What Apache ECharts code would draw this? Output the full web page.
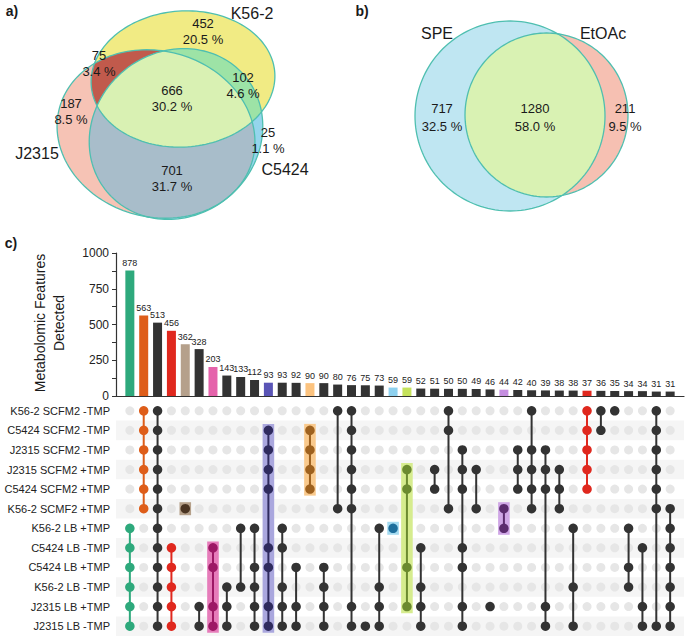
<!DOCTYPE html>
<html><head><meta charset="utf-8">
<script src="https://cdn.jsdelivr.net/npm/echarts@6/dist/echarts.min.js"></script>
<style>html,body{margin:0;padding:0;background:#fff}#c{width:685px;height:637px}</style>
</head><body><div id="c"></div>
<script>
// ---------------- DATA ----------------
const barValues = [878,563,513,456,362,328,203,143,133,112,93,93,92,90,90,80,76,75,73,59,59,52,51,50,50,49,46,44,42,40,39,38,38,37,36,35,34,34,31,31];
const rowLabels = ['K56-2 SCFM2 -TMP','C5424 SCFM2 -TMP','J2315 SCFM2 -TMP','J2315 SCFM2 +TMP','C5424 SCFM2 +TMP','K56-2 SCMF2 +TMP','K56-2 LB +TMP','C5424 LB -TMP','C5424 LB +TMP','K56-2 LB -TMP','J2315 LB +TMP','J2315 LB -TMP'];
const setRows = [
 [6,7,8,9,10,11],[0,1,2,3,4,5],[0,1,2,3,4,5,6,7,8,9,10,11],[7,8,9,10,11],[5],[10,11],[7,8,10,11],[9,10,11],[6,9],[6,8,9,10,11],
 [1,2,3,4,7,8,10,11],[6,7,9,10,11],[8,10,11],[1,2,3,4],[8,9,10,11],[0,5],[0,1,2,3,4,5,10,11],[11],[6,9,10,11],[6],
 [3,4,8,10],[7,9,10,11],[3,4],[0,1,5],[2,3,4,7,8,10,11],[3,5],[10],[5,6],[2,3,4],[0,2,3,4,5],
 [2,3,4,10,11],[3,4,5],[6,9,11],[0,1,2,3,4],[0,1],[0],[6,8,9],[7,10,11],[0,1,2,3,4,5,11],[5,6,7,8,9,10,11]
];
const colStyle = ['green','orange','k','red','tan','k','pink','k','k','k','purple','k','k','amber','k','k','k','k','k','sky','lime','k','k','k','k','k','k','lilac','k','k','k','k','k','red','k','k','k','k','k','k'];
const yTickLabels = [0,250,500,750,1000];
const vennANames = ['J2315','K56-2','C5424'];
// regions: J only, K only, C only, J&K, K&C, J&C, all
const vennACounts = [187,452,25,75,102,701,666];
const vennAPercents = ['8.5','20.5','1.1','3.4','4.6','31.7','30.2'];
const vennBNames = ['SPE','EtOAc'];
// regions: SPE only, both, EtOAc only
const vennBCounts = [717,1280,211];
const vennBPercents = ['32.5','58.0','9.5'];

// ---------------- STYLES ----------------
const FONT = "'Liberation Sans', Arial, Helvetica, sans-serif";
const styles = {
  k:{bar:'#333333',dot:'#333333',box:null},
  green:{bar:'#2ea97c',dot:'#2ea97c',box:null},
  orange:{bar:'#de5d19',dot:'#de5d19',box:null},
  red:{bar:'#e0281e',dot:'#e0281e',box:null},
  tan:{bar:'#b5a08b',dot:'#4a3422',box:'#b5a08a'},
  pink:{bar:'#e563ab',dot:'#9d1865',box:'#e67cba'},
  purple:{bar:'#5a55b6',dot:'#2f2b5e',box:'#aaa7de'},
  amber:{bar:'#fcc37f',dot:'#9e611e',box:'#f9c98c'},
  sky:{bar:'#8ed1ef',dot:'#1e6e9c',box:'#a4daf0'},
  lime:{bar:'#c5e25c',dot:'#6b8a2f',box:'#d6ec8e'},
  lilac:{bar:'#c58ee0',dot:'#5b2c6e',box:'#cfa6e6'}
};

// ---------------- VENN GEOMETRY ----------------
function ellipsePts(cx,cy,rx,ry,rotDeg,n){
  n=n||160; const t=rotDeg*Math.PI/180,c=Math.cos(t),s=Math.sin(t),pts=[];
  for(let i=0;i<n;i++){const a=2*Math.PI*i/n,x=rx*Math.cos(a),y=ry*Math.sin(a);pts.push([cx+x*c-y*s,cy+x*s+y*c]);}
  return pts;
}
function clipConvex(subject,clipPoly){
  let area=0;const n=clipPoly.length;
  for(let i=0;i<n;i++){const p=clipPoly[i],q=clipPoly[(i+1)%n];area+=p[0]*q[1]-q[0]*p[1];}
  const sg=area>0?1:-1;let out=subject;
  for(let i=0;i<n;i++){
    const a=clipPoly[i],b=clipPoly[(i+1)%n];const inp=out;out=[];if(!inp.length)break;
    const cr=p=>sg*((b[0]-a[0])*(p[1]-a[1])-(b[1]-a[1])*(p[0]-a[0]));
    for(let j=0;j<inp.length;j++){
      const cur=inp[j],prev=inp[(j+inp.length-1)%inp.length];const dc=cr(cur),dp=cr(prev);
      if(dc>=0){if(dp<0){const t=dp/(dp-dc);out.push([prev[0]+t*(cur[0]-prev[0]),prev[1]+t*(cur[1]-prev[1])]);}out.push(cur);}
      else if(dp>=0){const t=dp/(dp-dc);out.push([prev[0]+t*(cur[0]-prev[0]),prev[1]+t*(cur[1]-prev[1])]);}
    }
  }
  return out;
}
const eJ=ellipsePts(156,134,100,83,15), eK=ellipsePts(183,79,92,68,-4), eC=ellipsePts(176,134,90,82,-40);
const eS=ellipsePts(510,116,95,95,0), eE=ellipsePts(546.5,115,81.5,82,0);
const OUT='#4fbfb0';
const vennLayers=[
  {pts:eJ,fill:'#f6c3b5'},{pts:eK,fill:'#f1eb84'},{pts:eC,fill:'#95d5ec'},
  {pts:clipConvex(eJ,eK),fill:'#c15a4c'},{pts:clipConvex(eK,eC),fill:'#9de3a6'},{pts:clipConvex(eJ,eC),fill:'#a8bdca'},
  {pts:clipConvex(clipConvex(eJ,eK),eC),fill:'#d9f1b3'},
  {pts:eJ,stroke:OUT},{pts:eK,stroke:OUT},{pts:eC,stroke:OUT},
  {pts:eS,fill:'#bfe6f2'},{pts:eE,fill:'#f6c0b2'},{pts:clipConvex(eS,eE),fill:'#d9f2b3'},
  {pts:eS,stroke:OUT},{pts:eE,stroke:OUT}
];

// ---------------- DERIVED SERIES DATA ----------------
const nCols=barValues.length,nRows=rowLabels.length;
const barData=barValues.map((v,i)=>[i+1,v]);
const grayDots=[];for(let c=0;c<nCols;c++)for(let r=0;r<nRows;r++)grayDots.push([c+1,r]);
const activeDots=[];setRows.forEach((rows,c)=>rows.forEach(r=>activeDots.push([c+1,r,c])));
const spans=setRows.map((rows,c)=>[c+1,Math.min(...rows),Math.max(...rows),c]);
const boxSpans=spans.filter(s=>styles[colStyle[s[3]]].box);
const lineSpans=spans.filter(s=>s[2]>s[1]);

const texts=[];
function T(x,y,text,size,extra){texts.push(Object.assign({type:'text',x:x,y:y,z:100,silent:true,style:{text:String(text),fontSize:size,fontFamily:FONT,fill:'#1a1a1a',align:'center',verticalAlign:'middle',textAlign:'center',textVerticalAlign:'middle',lineHeight:19}},extra||{}));}
T(12,11,'a)',14);texts[texts.length-1].style.fontWeight='bold';
T(362,11,'b)',14);texts[texts.length-1].style.fontWeight='bold';
T(11,243,'c)',14);texts[texts.length-1].style.fontWeight='bold';
T(37,153,vennANames[0],16);T(252,13,vennANames[1],16);T(285,169,vennANames[2],16);
const aPos=[[71,103],[203,23],[268,132],[99,55],[243,77],[172,170],[172,90]];
aPos.forEach((p,i)=>{T(p[0],p[1],vennACounts[i],13);T(p[0],p[1]+16.5,vennAPercents[i]+' %',13);});
T(437,33,vennBNames[0],16);T(603,33,vennBNames[1],16);
const bPos=[[442,108],[535,108],[625,108]];
bPos.forEach((p,i)=>{T(p[0],p[1],vennBCounts[i],13);T(p[0],p[1]+18,vennBPercents[i]+' %',13);});
T(49,323,'Metabolomic Features\nDetected',14,{rotation:Math.PI/2});

const chart=echarts.init(document.getElementById('c'),null,{renderer:'svg'});
chart.setOption({
  animation:false,
  backgroundColor:'#fff',
  grid:[
    {left:116,top:253,width:568,height:143,outerBoundsMode:'none',containLabel:false},
    {left:116,top:401,width:568,height:235,outerBoundsMode:'none',containLabel:false},
    {left:0,top:0,width:685,height:637,outerBoundsMode:'none',containLabel:false}
  ],
  xAxis:[
    {gridIndex:0,type:'value',min:0,max:41,axisLine:{show:true,lineStyle:{color:'#333',width:1.2}},axisTick:{show:false},axisLabel:{show:false},splitLine:{show:false}},
    {gridIndex:1,type:'value',min:0,max:41,show:false},
    {gridIndex:2,type:'value',min:0,max:685,show:false}
  ],
  yAxis:[
    {gridIndex:0,type:'value',min:0,max:1000,interval:125,axisLine:{show:true,lineStyle:{color:'#333',width:1.2}},
     axisTick:{show:true,length:4,lineStyle:{color:'#333'}},splitLine:{show:false},
     axisLabel:{fontSize:12,fontFamily:FONT,color:'#222',margin:7,formatter:v=>yTickLabels.indexOf(v)>=0?String(v):''}},
    {gridIndex:1,type:'category',data:rowLabels,inverse:true,axisLine:{show:false},axisTick:{show:false},
     axisLabel:{fontSize:11,fontFamily:FONT,color:'#222',margin:6},
     splitLine:{show:false},splitArea:{show:true,areaStyle:{color:['rgba(255,255,255,0)','#f5f5f5']}}},
    {gridIndex:2,type:'value',min:0,max:637,inverse:true,show:false}
  ],
  series:[
    {type:'custom',xAxisIndex:2,yAxisIndex:2,silent:true,clip:false,z:1,data:vennLayers.map((l,i)=>[i,0]),
     renderItem:(params,api)=>{const L=vennLayers[api.value(0)];const pts=L.pts.map(p=>api.coord(p));
       return {type:'polygon',shape:{points:pts},style:L.fill?{fill:L.fill,stroke:null}:{fill:'none',stroke:L.stroke,lineWidth:1.3}};}},
    {type:'bar',xAxisIndex:0,yAxisIndex:0,data:barData,barWidth:9,silent:true,z:2,
     itemStyle:{color:p=>styles[colStyle[p.dataIndex]].bar,opacity:1},
     label:{show:true,position:'top',distance:3,fontSize:9,fontFamily:FONT,color:'#222'}},
    {type:'scatter',xAxisIndex:1,yAxisIndex:1,data:grayDots,symbolSize:9,silent:true,z:2,itemStyle:{color:'#e6e6e6',opacity:1}},
    {type:'custom',xAxisIndex:1,yAxisIndex:1,silent:true,z:3,data:boxSpans,
     renderItem:(params,api)=>{const a=api.coord([api.value(0),api.value(1)]),b=api.coord([api.value(0),api.value(2)]);
       return {type:'rect',shape:{x:a[0]-5.8,y:a[1]-6.5,width:11.6,height:b[1]-a[1]+13},style:{fill:styles[colStyle[api.value(3)]].box}};}},
    {type:'custom',xAxisIndex:1,yAxisIndex:1,silent:true,z:4,data:lineSpans,
     renderItem:(params,api)=>{const a=api.coord([api.value(0),api.value(1)]),b=api.coord([api.value(0),api.value(2)]);
       return {type:'line',shape:{x1:a[0],y1:a[1],x2:b[0],y2:b[1]},style:{stroke:styles[colStyle[api.value(3)]].dot,lineWidth:2}};}},
    {type:'scatter',xAxisIndex:1,yAxisIndex:1,data:activeDots,symbolSize:9.5,silent:true,z:5,
     itemStyle:{color:p=>styles[colStyle[p.data[2]]].dot,opacity:1}}
  ],
  graphic:texts
});
</script></body></html>
